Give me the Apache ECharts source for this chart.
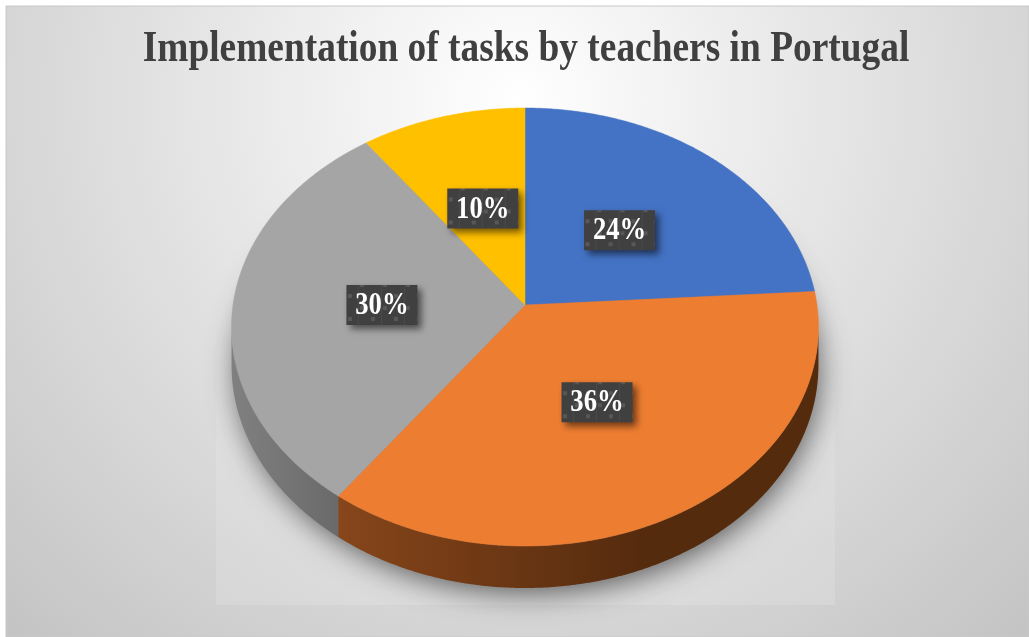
<!DOCTYPE html>
<html>
<head>
<meta charset="utf-8">
<script src="https://cdn.jsdelivr.net/npm/echarts@6/dist/echarts.min.js"></script>
<style>
  html, body { margin: 0; padding: 0; background: #ffffff; }
  #chart { width: 1029px; height: 637px; }
</style>
</head>
<body>
<div id="chart"></div>
<script>
// Share of tasks (percent), drawn clockwise from 12 o'clock
const shares = [24, 36, 30, 10];
const shareLabels = ['24%', '36%', '30%', '10%'];
const chartTitle = 'Implementation of tasks by teachers in Portugal';

// Slice styling
const sliceColors = ['#4472C4', '#ED7D31', '#A5A5A5', '#FFC000'];
const wallLeftColors = ['#2c4a80', '#984f1f', '#808080', '#a57d00'];
const wallRightColors = ['#1e3358', '#552b0e', '#2a2a2a', '#6b5100'];

// Perspective disc geometry (pixels)
const P = { cx: 525, cy: 305, ax: 2905, by: 2157, dist: 9.95, depth: 376 };

function project(deg, f, drop) {
  const t = deg * Math.PI / 180;
  const u = f * Math.cos(t);
  const v = -f * Math.sin(t);
  const w = P.dist - v;
  return [P.cx + P.ax * u / w, P.cy + (P.by * v + P.depth * drop) / w];
}

// Start/end angle of each slice from the data
function sliceAngles(values) {
  const total = values.reduce((s, x) => s + x, 0);
  const out = [];
  let a = 90;
  values.forEach(v => {
    const span = 360 * v / total;
    out.push([a, a - span]);
    a -= span;
  });
  return out;
}

function arcPoints(a0, a1, f, drop) {
  const n = Math.max(2, Math.ceil(Math.abs(a1 - a0) * 2));
  const pts = [];
  for (let k = 0; k <= n; k++) pts.push(project(a0 + (a1 - a0) * k / n, f, drop));
  return pts;
}

// Front (visible) part of the rim lies between the two silhouette angles
const rimEdge = Math.asin(1 / P.dist) * 180 / Math.PI;
const rimFrom = -rimEdge, rimTo = -180 + rimEdge;

function visibleRim(a0, a1) {
  // a0 > a1 (clockwise); shift into the window [-360, 0]
  let hi = a0, lo = a1;
  while (hi > 0) { hi -= 360; lo -= 360; }
  const parts = [];
  [0, 360].forEach(off => {
    const h = Math.min(hi + off, rimFrom), l = Math.max(lo + off, rimTo);
    if (h > l) parts.push([h, l]);
  });
  return parts;
}

const chart = echarts.init(document.getElementById('chart'), null, { renderer: 'canvas' });

// Small dotted tile for the label boxes
const tile = document.createElement('canvas');
tile.width = 23; tile.height = 23;
(function () {
  const g = tile.getContext('2d');
  g.fillStyle = '#404040'; g.fillRect(0, 0, 23, 23);
  g.fillStyle = '#575757';
  g.fillRect(1, 1, 4, 4);
  g.fillRect(12, 12, 4, 4);
  g.fillStyle = 'rgba(255,255,255,0.05)';
  g.fillRect(22, 0, 1, 23);
})();

const rimLeft = project(180, 1, 0)[0], rimRight = project(0, 1, 0)[0];

const option = {
  animation: false,
  graphic: [
    {
      type: 'rect', z: -10, silent: true,
      shape: { x: 6, y: 6, width: 1023, height: 631 },
      style: {
        fill: {
          type: 'radial', x: 0.5, y: 0.15, r: 1.18,
          colorStops: [
            { offset: 0, color: '#ffffff' },
            { offset: 1, color: '#c3c3c3' }
          ]
        },
        stroke: '#c8c8c8', lineWidth: 1
      }
    },
    {
      // faint lighter panel behind the lower half of the disc
      type: 'rect', z: -9, silent: true,
      shape: { x: 216, y: 330, width: 619, height: 275 },
      style: {
        fill: {
          type: 'linear', x: 0, y: 0, x2: 0, y2: 1,
          colorStops: [
            { offset: 0, color: 'rgba(255,255,255,0)' },
            { offset: 0.4, color: 'rgba(255,255,255,0.1)' },
            { offset: 1, color: 'rgba(255,255,255,0.14)' }
          ]
        }
      }
    },
    {
      type: 'text', z: 10, x: 526, y: 50, scaleX: 0.85,
      style: {
        text: chartTitle,
        fill: '#404040',
        font: 'bold 44px "Liberation Serif", "Times New Roman", serif',
        textAlign: 'center', textVerticalAlign: 'middle'
      }
    }
  ],
  series: [
    {
      // soft shadow under the disc
      type: 'custom', coordinateSystem: 'none', z: 1, silent: true,
      data: [0],
      renderItem: function () {
        return {
          type: 'polygon',
          shape: { points: arcPoints(0, 360, 0.99, 0.98) },
          style: {
            fill: '#808080',
            shadowBlur: 30, shadowOffsetY: 8, shadowOffsetX: 3,
            shadowColor: 'rgba(0,0,0,0.62)'
          }
        };
      }
    },
    {
      // visible side walls
      type: 'custom', coordinateSystem: 'none', z: 2, silent: true,
      data: shares,
      renderItem: function (params, api) {
        const i = params.dataIndex;
        const [a0, a1] = sliceAngles(shares)[i];
        const fill = {
          type: 'linear', global: true,
          x: rimLeft, y: 0, x2: rimRight, y2: 0,
          colorStops: [
            { offset: 0, color: wallLeftColors[i] },
            { offset: 0.7, color: wallRightColors[i] },
            { offset: 1, color: wallRightColors[i] }
          ]
        };
        const children = visibleRim(a0, a1).map(([h, l]) => ({
          type: 'polygon',
          shape: { points: arcPoints(h, l, 1, 0).concat(arcPoints(l, h, 1, 1)) },
          style: { fill: fill }
        }));
        return { type: 'group', children: children };
      }
    },
    {
      // top faces
      type: 'custom', coordinateSystem: 'none', z: 3, silent: true,
      data: shares,
      renderItem: function (params, api) {
        const i = params.dataIndex;
        const [a0, a1] = sliceAngles(shares)[i];
        const pts = [project(0, 0, 0)].concat(arcPoints(a0, a1, 1, 0));
        return {
          type: 'polygon',
          shape: { points: pts },
          style: { fill: sliceColors[i], stroke: sliceColors[i], lineWidth: 0.5 }
        };
      }
    },
    {
      // value labels
      type: 'custom', coordinateSystem: 'none', z: 4, silent: true,
      data: shares,
      renderItem: function (params, api) {
        const i = params.dataIndex;
        const [a0, a1] = sliceAngles(shares)[i];
        const c = project((a0 + a1) / 2, 0.49, 0);
        return {
          type: 'group', x: c[0], y: c[1],
          children: [
            {
              type: 'rect',
              shape: { x: -35.5, y: -20, width: 71, height: 40 },
              style: {
                fill: { image: tile, repeat: 'repeat' },
                shadowBlur: 7, shadowOffsetX: 4, shadowOffsetY: 4,
                shadowColor: 'rgba(0,0,0,0.55)'
              }
            },
            {
              type: 'text', x: 0, y: 1, scaleX: 0.86,
              style: {
                text: shareLabels[i] + '',
                fill: '#ffffff',
                font: 'bold 31px "Liberation Serif", "Times New Roman", serif',
                textAlign: 'center', textVerticalAlign: 'middle'
              }
            }
          ]
        };
      }
    }
  ]
};

chart.setOption(option);
</script>
</body>
</html>
